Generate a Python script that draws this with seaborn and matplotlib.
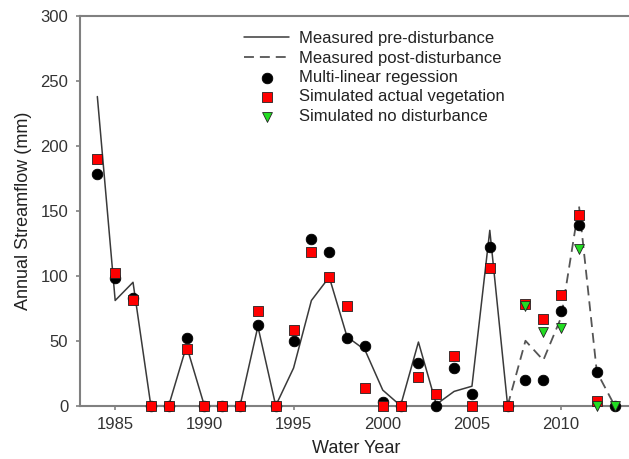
import matplotlib
matplotlib.use("Agg")
import matplotlib.pyplot as plt
import seaborn as sns

# ---- data ----
years_pre = list(range(1984, 2008))
measured_pre = [238, 81, 95, 0, 0, 46, 0, 0, 0, 61, 0, 29, 81, 99, 53, 43,
                12, 0, 49, 1, 11, 15, 135, 0]
years_post = list(range(2007, 2014))
measured_post = [0, 50, 35, 68, 154, 26, 0]
years_mlr = list(range(1984, 2014))
mlr = [178, 98, 83, 0, 0, 52, 0, 0, 0, 62, 0, 50, 128, 118, 52, 46, 3, 0,
       33, 0, 29, 9, 122, 0, 20, 20, 73, 139, 26, 0]
years_sim = list(range(1984, 2013))
sim_actual = [190, 102, 81, 0, 0, 44, 0, 0, 0, 73, 0, 58, 118, 99, 77, 14,
              0, 0, 22, 9, 38, 0, 106, 0, 78, 67, 85, 147, 4]
years_nodist = list(range(2008, 2014))
sim_nodist = [77, 57, 60, 121, 0, 0]

x_ticks = [1985, 1990, 1995, 2000, 2005, 2010]
y_ticks = [0, 50, 100, 150, 200, 250, 300]

sns.set_theme(style="ticks")
plt.rcParams['font.family'] = ['Liberation Sans', 'DejaVu Sans']

W, H = 629, 459
fig = plt.figure(figsize=(W / 100, H / 100), dpi=100)
left, right, top, bottom = 79.5, 632.5, 16.0, 405.7
ax = fig.add_axes([left / W, (H - bottom) / H, (right - left) / W, (bottom - top) / H])

sns.lineplot(x=years_pre, y=measured_pre, ax=ax, color='#3a3a3a', lw=1.1,
             label='Measured pre-disturbance', zorder=2)
sns.lineplot(x=years_post, y=measured_post, ax=ax, color='#555555', lw=1.3,
             label='Measured post-disturbance', zorder=2)
ax.lines[-1].set_dashes((5.5, 3.3))
sns.scatterplot(x=years_mlr, y=mlr, ax=ax, color='black', marker='o', s=58,
                edgecolor='black', linewidth=0.6, label='Multi-linear regession',
                zorder=3, clip_on=False)
sns.scatterplot(x=years_sim, y=sim_actual, ax=ax, color='#ff0000', marker='s', s=48,
                edgecolor='#222222', linewidth=0.6, label='Simulated actual vegetation',
                zorder=4, clip_on=False)
sns.scatterplot(x=years_nodist, y=sim_nodist, ax=ax, color='#22dd22', marker='v', s=50,
                edgecolor='#222222', linewidth=0.6, label='Simulated no disturbance',
                zorder=5, clip_on=False)

ax.set_xlim(1983, 2014)
ax.set_ylim(0, 300)
ax.set_xticks(x_ticks)
ax.set_yticks(y_ticks)
ax.set_xlabel('Water Year', fontsize=13, color='#222222', labelpad=6)
ax.set_ylabel('Annual Streamflow (mm)', fontsize=13, color='#222222', labelpad=6)

for sp in ['left', 'bottom', 'top']:
    ax.spines[sp].set_color('#808080')
    ax.spines[sp].set_linewidth(1.5)
ax.spines['right'].set_visible(False)
ax.tick_params(axis='both', direction='out', length=3, width=1.2, color='#808080',
               labelsize=12, labelcolor='#333333', pad=5)

handles, labels = ax.get_legend_handles_labels()
leg = ax.legend(handles, labels, loc='upper left',
                bbox_to_anchor=(244 / W, 1 - 31 / H), bbox_transform=fig.transFigure,
                frameon=False, fontsize=12, handlelength=2.7, handletextpad=0.6,
                labelspacing=0.27, borderpad=0, borderaxespad=0)
for t in leg.get_texts():
    t.set_color('#222222')

fig.savefig('out.png', dpi=100)
